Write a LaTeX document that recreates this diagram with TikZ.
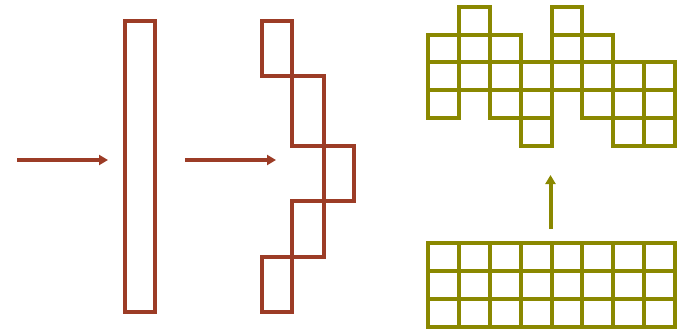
\documentclass[tikz,border=0pt]{standalone}
\usetikzlibrary{arrows.meta}
\definecolor{rust}{RGB}{156,60,38}
\definecolor{olive}{RGB}{138,136,0}
\tikzset{
  rustline/.style={draw=rust, line width=4pt, line join=miter},
  oliveline/.style={draw=olive, line width=4pt, line join=miter},
  rustarrow/.style={rust, line width=4pt, -{Triangle[length=9pt,width=10pt]}},
  olivearrow/.style={olive, line width=4pt, -{Triangle[length=9pt,width=10pt]}}
}
\begin{document}
\begin{tikzpicture}[x=1pt,y=-1pt]
\useasboundingbox (0,0) rectangle (689,330);

% incoming arrows
\coordinate (a1s) at (17,160);
\coordinate (a1e) at (108,160);
\coordinate (a2s) at (185,160);
\coordinate (a2e) at (276,160);
\draw[rustarrow] (a1s) -- (a1e);
\draw[rustarrow] (a2s) -- (a2e);

% flat wavefront
\draw[rustline] (125,21) rectangle (155,312);

% staggered wavefront
\draw[rustline] (262,21) rectangle (292,76);
\draw[rustline] (292,76) rectangle (324,146);
\draw[rustline] (324,146) rectangle (354,201);
\draw[rustline] (292,201) rectangle (324,257);
\draw[rustline] (262,257) rectangle (292,312);

% regular grid
\foreach \c in {0,...,7}{
  \foreach \r in {0,1,2}{
    \draw[oliveline] ({428+30.875*\c},{242.7+28*\r}) rectangle ++(30.875,28);
  }
}

% upward arrow
\coordinate (a3s) at (550.5,229);
\coordinate (a3e) at (550.5,175);
\draw[olivearrow] (a3s) -- (a3e);

% shifted columns
\foreach \c/\s in {0/1,1/0,2/1,3/2,4/0,5/1,6/2,7/2}{
  \foreach \r in {0,1,2}{
    \draw[oliveline] ({428+30.875*\c},{6.7+27.8*(\s+\r)}) rectangle ++(30.875,27.8);
  }
}
\end{tikzpicture}
\end{document}
